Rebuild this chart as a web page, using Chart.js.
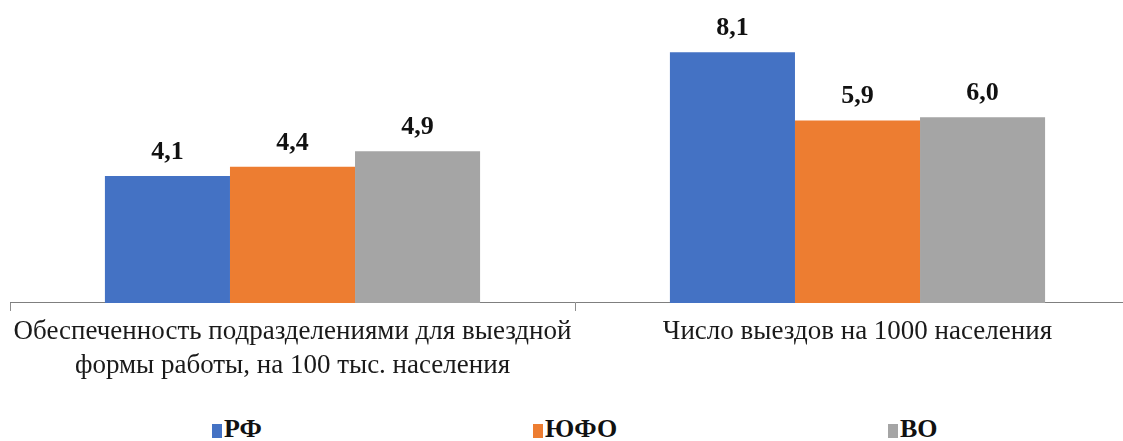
<!DOCTYPE html>
<html lang="ru">
<head>
<meta charset="utf-8">
<script src="https://cdn.jsdelivr.net/npm/chart.js@4/dist/chart.umd.min.js"></script>
<style>
    html, body {
        margin: 0;
        padding: 0;
        background: #ffffff;
        overflow: hidden;
        width: 1123px;
        height: 441px;
    }

    .chart-box {
        position: absolute;
        left: 0;
        top: 0;
        width: 1150px;
        height: 387px;
    }

    .legend-item {
        position: absolute;
        top: 414px;
        font: bold 26px "Liberation Serif", "Times New Roman", serif;
        color: #111;
        white-space: nowrap;
    }

    .legend-item i {
        display: inline-block;
        width: 10px;
        height: 14px;
        margin-right: 2px;
        vertical-align: -1px;
    }
</style>
</head>
<body>

<div class="chart-box">
    <canvas id="barChart"></canvas>
</div>

<div class="legend-item" style="left: 212px;"><i style="background:#4472C4"></i>РФ</div>
<div class="legend-item" style="left: 533px;"><i style="background:#ED7D31"></i>ЮФО</div>
<div class="legend-item" style="left: 888px;"><i style="background:#A5A5A5"></i>ВО</div>

<script>

/* ==========================================================
   DATA
========================================================== */

const categories = [
    ["Обеспеченность подразделениями для выездной", "формы работы, на 100 тыс. населения"],
    "Число выездов на 1000 населения"
];

const seriesNames = ["РФ", "ЮФО", "ВО"];

const valuesRF  = [4.1, 8.1];
const valuesUFO = [4.4, 5.9];
const valuesVO  = [4.9, 6.0];

const seriesColors = ["#4472C4", "#ED7D31", "#A5A5A5"];

const serifFamily = '"Liberation Serif", "Times New Roman", serif';

/* ==========================================================
   VALUE LABELS
========================================================== */

const valueLabelPlugin = {

    id: "valueLabels",

    afterDatasetsDraw(chart) {

        const { ctx } = chart;

        ctx.save();

        ctx.font = "bold 26px " + serifFamily;
        ctx.fillStyle = "#111111";
        ctx.textAlign = "center";
        ctx.textBaseline = "alphabetic";

        chart.data.datasets.forEach((dataset, i) => {

            chart.getDatasetMeta(i).data.forEach((bar, j) => {

                const text = dataset.data[j].toFixed(1).replace(".", ",");

                ctx.fillText(text, bar.x, bar.y - 17);

            });

        });

        ctx.restore();

    }

};

/* ==========================================================
   CHART
========================================================== */

const datasets = [valuesRF, valuesUFO, valuesVO].map((values, i) => ({
    label: seriesNames[i],
    data: values,
    backgroundColor: seriesColors[i],
    borderWidth: 0,
    categoryPercentage: 0.664,
    barPercentage: 1
}));

new Chart(document.getElementById("barChart"), {

    type: "bar",

    data: {
        labels: categories,
        datasets: datasets
    },

    options: {

        responsive: true,
        maintainAspectRatio: false,
        animation: false,

        layout: {
            padding: {
                left: 10,
                right: 10,
                top: 9,
                bottom: 0
            }
        },

        plugins: {
            legend: { display: false },
            tooltip: { enabled: false }
        },

        scales: {

            x: {
                grid: {
                    display: true,
                    drawOnChartArea: false,
                    drawTicks: true,
                    tickLength: 8,
                    color: "#8c8c8c"
                },
                border: {
                    display: true,
                    color: "#7f7f7f",
                    width: 1
                },
                ticks: {
                    padding: 4,
                    color: "#1a1a1a",
                    maxRotation: 0,
                    autoSkip: false,
                    font: {
                        family: serifFamily,
                        size: 27,
                        lineHeight: 1.26
                    }
                }
            },

            y: {
                display: false,
                min: 0,
                max: 9.5
            }

        }

    },

    plugins: [valueLabelPlugin]

});

</script>
</body>
</html>
